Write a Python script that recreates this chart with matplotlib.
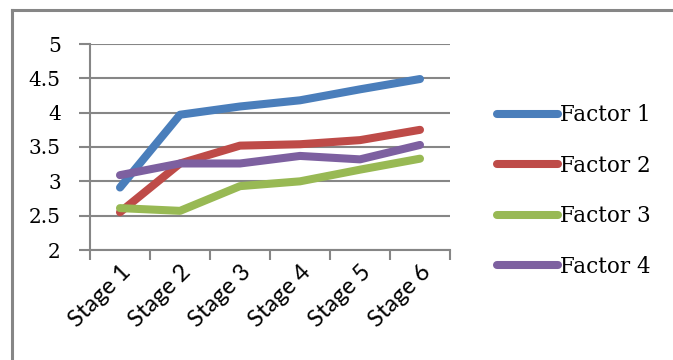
import matplotlib
matplotlib.use('Agg')
import matplotlib.pyplot as plt
from matplotlib.lines import Line2D

stages = ['Stage 1', 'Stage 2', 'Stage 3', 'Stage 4', 'Stage 5', 'Stage 6']
factor1 = [2.91, 3.97, 4.09, 4.18, 4.34, 4.49]
factor2 = [2.55, 3.26, 3.52, 3.54, 3.60, 3.75]
factor3 = [2.61, 2.57, 2.93, 3.00, 3.17, 3.33]
factor4 = [3.09, 3.26, 3.26, 3.37, 3.32, 3.53]
names = ['Factor 1', 'Factor 2', 'Factor 3', 'Factor 4']
colors = ['#4A7EBB', '#BE4B48', '#98B954', '#7D60A0']
yticks = [2, 2.5, 3, 3.5, 4, 4.5, 5]

grey = '#868686'
serif = 'DejaVu Serif'
sans = 'Lato'

fig = plt.figure(figsize=(6.73, 3.6), dpi=100)

# outer chart frame (top and left only)
fig.add_artist(Line2D([12/673, 1], [1 - 10/360, 1 - 10/360], color=grey, lw=2.2))
fig.add_artist(Line2D([12/673, 12/673], [0, 1 - 10/360], color=grey, lw=2.2))

ax = fig.add_axes([90/673, 1 - 250/360, 360/673, 206/360])

x = range(len(stages))
for vals, name, c in zip([factor1, factor2, factor3, factor4], names, colors):
    ax.plot(x, vals, color=c, lw=5.8, label=name,
            solid_capstyle='round', solid_joinstyle='round')

ax.set_xlim(-0.5, len(stages) - 0.5)
ax.set_ylim(2, 5)
ax.set_yticks(yticks)
ax.set_yticklabels(['2', '2.5', '3', '3.5', '4', '4.5', '5'], family=serif, fontsize=14.5)
ax.yaxis.grid(True, color=grey, lw=1.5)
ax.set_axisbelow(True)

ax.set_xticks(list(x))
ax.set_xticklabels(stages, rotation=45, ha='right', va='top', rotation_mode='anchor',
                   family=sans, fontsize=17)
ax.set_xticks([i - 0.5 for i in range(len(stages) + 1)], minor=True)
ax.tick_params(axis='x', which='major', length=0, pad=8)
ax.tick_params(axis='x', which='minor', length=7, width=1.5, color=grey, direction='out')
ax.tick_params(axis='y', length=8, width=1.5, color=grey, direction='out', pad=13)

for s in ['top', 'right']:
    ax.spines[s].set_visible(False)
for s in ['left', 'bottom']:
    ax.spines[s].set_color(grey)
    ax.spines[s].set_linewidth(1.5)

ax.legend(loc='center left', bbox_to_anchor=(478/673, 1 - 191/360),
          bbox_transform=fig.transFigure, frameon=False,
          prop={'family': serif, 'size': 15.5}, handlelength=2.8,
          handletextpad=0.1, labelspacing=1.33)

fig.savefig('out.png', dpi=100)
